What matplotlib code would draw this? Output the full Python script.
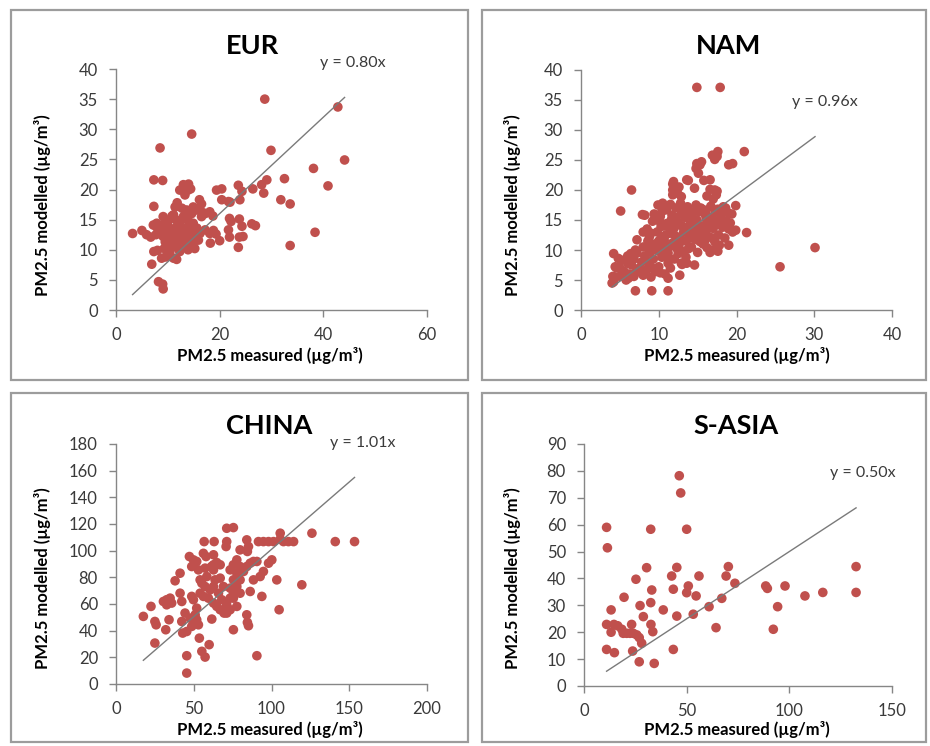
import matplotlib
matplotlib.use("Agg")
import matplotlib.pyplot as plt
from matplotlib.patches import Rectangle
import numpy as np

plt.rcParams['font.family'] = ['Lato', 'DejaVu Sans']

W, H = 930, 746

# ---------------- data ----------------
eur_x = [3.2, 5.0, 5.9, 6.7, 7.3, 7.3, 9.0, 8.5, 14.6, 28.7,
         42.8, 29.9, 44.1, 38.1, 40.9, 32.5, 31.8, 33.6, 33.6, 38.4,
         29.1, 28.1, 28.5, 26.4, 23.6, 24.3, 23.9, 26.9, 26.2, 23.8,
         24.3, 23.8, 24.5, 23.6, 21.9, 22.2, 21.7, 21.9, 20.0, 18.2,
         18.8, 19.3, 18.7, 20.4, 19.4, 20.4, 21.7, 16.1, 16.5, 16.9,
         13.0, 14.0, 14.4, 8.2, 9.0, 9.1, 6.9, 7.3, 8.0, 8.8,
         9.6, 11.1, 11.7, 7.9, 8.6, 7.7,
         13.3, 13.9, 12.3, 11.8, 11.4, 14.9, 16.2, 18.1, 22.0,
         7.85, 8.8, 9.8, 10.4, 9.5, 8.5, 9.1, 10.1, 11.1, 12.0,
         13.0, 13.9, 12.3, 11.7, 13.0, 13.9, 14.9, 15.6, 15.2, 14.3,
         13.3, 12.3, 11.4, 10.4, 9.5, 14.9, 15.9, 16.2, 17.2, 18.1,
         16.5, 17.2, 14.6, 15.6, 13.6, 12.7, 11.1, 9.1, 7.2, 10.4,
         12.3, 13.9, 15.2,
         9.8, 10.6, 11.5, 12.4, 13.2, 14.1, 10.2, 11.0, 11.9, 12.8,
         13.6, 14.5, 9.3, 10.8, 12.1, 13.4]
eur_y = [12.7, 13.2, 12.5, 12.1, 17.2, 21.6, 21.5, 26.9, 29.2, 35.0,
         33.7, 26.5, 24.9, 23.5, 20.6, 21.8, 18.3, 17.6, 10.7, 12.9,
         21.6, 20.8, 19.4, 20.1, 20.7, 19.7, 18.3, 14.0, 14.3, 15.1,
         13.9, 12.1, 12.2, 10.4, 15.2, 14.7, 13.3, 12.1, 11.5, 11.1,
         13.2, 12.6, 15.6, 20.1, 19.9, 18.3, 18.0, 18.3, 17.6, 16.1,
         20.8, 20.9, 20.1, 4.7, 4.3, 3.5, 7.6, 9.7, 9.9, 8.6,
         8.8, 8.6, 8.4, 13.7, 13.4, 12.5,
         19.1, 19.9, 19.9, 17.8, 17.1, 17.1, 16.6, 16.3, 17.9,
         14.4, 14.1, 14.4, 13.6, 13.0, 12.7, 12.2, 11.9, 12.4, 13.0,
         13.6, 13.8, 14.4, 14.9, 15.5, 14.9, 14.4, 13.6, 12.4, 11.9,
         11.3, 10.8, 10.5, 10.8, 11.3, 11.1, 11.6, 12.7, 13.3, 12.7,
         15.5, 16.0, 16.0, 16.6, 16.6, 16.9, 15.8, 15.5, 14.1, 9.7,
         9.7, 10.0, 10.2,
         11.0, 12.1, 11.6, 12.0, 11.8, 12.3, 14.9, 13.3, 14.1, 13.1,
         12.6, 13.4, 10.2, 15.6, 10.2, 10.6]

nam_x = [14.9, 17.9, 21.0, 30.1, 25.6, 21.3, 19.9, 19.9, 19.0, 19.0,
         19.5, 17.6, 17.5, 17.2, 14.9, 15.5, 15.3, 15.1, 16.6, 13.6,
         14.6, 11.9, 12.1, 11.8, 17.2, 17.4, 6.5, 5.1, 7.9, 7.2,
         4.2, 4.8, 4.4, 4.1, 4.2, 5.0, 6.1, 7.0, 9.1, 11.2,
         11.2, 12.7, 12.9, 13.6, 14.6,
         8.5, 8.8, 9.2, 9.5, 9.8, 9.9, 10.2, 10.4, 10.6, 10.8,
         11.0, 11.2, 11.4, 11.6, 11.8, 12.0, 12.2, 12.3, 12.5, 12.7,
         12.9, 13.0, 13.2, 13.4, 13.5, 13.7, 13.9, 14.0, 14.2, 14.4,
         14.5, 14.7, 14.9, 15.0, 15.2, 15.4, 15.5, 15.7, 15.9, 16.0,
         16.2, 16.3, 16.5, 16.7, 16.8, 17.0, 17.2, 17.3, 17.5, 17.7,
         17.8, 18.0, 18.2, 18.4, 18.5, 18.7, 18.9, 19.0, 17.6, 16.6,
         10.0, 9.0, 10.5, 11.5, 12.8, 13.8, 14.8, 15.6, 11.0, 12.0,
         13.0, 14.0, 15.0, 16.0, 17.0, 10.3, 9.4, 8.2, 8.0, 8.6,
         12.6, 12.4, 12.9, 11.8, 11.8, 14.8, 13.8, 15.8, 16.2, 17.0,
         17.5, 16.6, 16.9, 18.3, 18.6, 19.4, 19.2, 19.5,
         4.0, 4.3, 4.6, 5.2, 5.5, 5.8, 6.2, 6.5, 6.8, 7.0,
         7.2, 7.5, 7.8, 8.0, 8.2, 8.5, 8.8, 9.0, 9.3, 9.6,
         10.0, 10.4, 10.8, 11.0, 11.5, 12.0, 12.5, 13.0, 13.5, 6.0,
         7.0, 8.0, 9.0, 10.0,
         9.0, 9.6, 10.0, 10.4, 10.9, 11.3, 11.7, 12.1, 12.6, 13.1,
         13.6, 14.1, 14.6, 15.1, 15.6, 16.1, 16.6, 17.1, 17.6, 18.1,
         10.1, 10.7, 11.4, 12.2, 13.0, 13.8, 14.6, 15.3, 16.1, 16.9,
         5.0, 6.0, 6.8, 7.6, 8.4, 9.2, 10.2, 11.2, 6.4, 8.8]
nam_y = [37.1, 37.1, 26.4, 10.4, 7.2, 12.9, 13.3, 17.4, 10.8, 24.2,
         24.4, 26.4, 25.6, 25.1, 24.4, 24.7, 24.2, 22.8, 21.7, 21.7,
         20.3, 21.4, 20.3, 19.2, 20.0, 19.2, 20.0, 16.5, 15.9, 11.7,
         9.4, 8.6, 7.2, 5.6, 4.7, 5.6, 5.3, 3.2, 3.2, 3.2,
         5.3, 5.8, 7.8, 7.8, 7.5,
         13.5, 12.2, 14.8, 11.0, 13.0, 17.5, 15.6, 12.1, 10.2, 14.0,
         16.7, 9.5, 12.8, 15.0, 11.2, 13.7, 17.0, 10.3, 14.6, 12.0,
         16.0, 9.8, 13.0, 15.4, 11.5, 17.2, 12.5, 14.2, 10.5, 16.3,
         13.3, 11.8, 15.0, 9.6, 12.6, 17.0, 14.0, 11.0, 16.0, 13.0,
         10.4, 14.8, 12.2, 17.3, 15.5, 13.6, 11.4, 16.4, 14.3, 12.5,
         10.8, 15.6, 13.8, 16.5, 12.0, 14.8, 16.2, 13.5, 9.8, 9.6,
         11.5, 9.8, 17.8, 17.6, 17.8, 16.6, 17.5, 16.8, 14.4, 11.0,
         14.0, 12.0, 13.8, 11.7, 15.1, 13.9, 16.0, 15.8, 13.0, 11.5,
         20.5, 19.5, 18.9, 21.0, 20.0, 23.6, 21.6, 21.6, 19.0, 18.5,
         19.8, 20.1, 25.8, 17.2, 17.0, 16.0, 14.5, 13.0,
         4.5, 5.5, 7.0, 8.3, 6.5, 5.0, 6.0, 7.5, 8.5, 6.2,
         9.5, 7.0, 8.0, 5.8, 9.0, 6.8, 7.8, 5.5, 8.5, 6.4,
         7.2, 8.8, 6.0, 9.0, 7.0, 8.5, 9.4, 7.6, 8.8, 9.0,
         10.0, 10.5, 10.5, 9.8,
         12.8, 15.2, 10.8, 16.4, 12.5, 14.0, 15.8, 12.4, 10.8, 16.8,
         13.6, 15.6, 12.4, 16.4, 12.8, 15.2, 13.8, 12.0, 16.8, 14.2,
         14.8, 11.6, 10.6, 15.4, 11.6, 10.2, 14.4, 11.4, 16.6, 10.0,
         7.0, 7.8, 5.6, 6.4, 8.4, 7.0, 6.2, 7.8, 9.4, 9.8]

china_x = [17.6, 22.5, 25.0, 25.8, 25.0, 32.0, 30.5, 32.6, 34.8, 35.8,
           32.6, 34.1, 38.0, 41.2, 41.2, 42.3, 42.3, 42.9, 45.5, 45.5,
           47.2, 49.8, 51.9, 45.5, 48.7, 51.9, 53.0, 50.9, 47.6, 53.6,
           55.2, 57.3, 59.9, 61.6, 56.7, 63.1, 56.2, 57.9, 62.7, 64.8,
           67.0, 61.4, 57.3, 71.2, 75.5, 71.2, 70.8, 75.5, 84.1, 85.2,
           84.5, 86.3, 84.1, 85.2, 84.5, 90.6, 93.8, 92.7, 94.8, 98.1,
           100.2, 103.4, 104.9, 91.6, 94.8, 98.1, 101.3, 105.6, 107.7, 110.9,
           114.2, 105.6, 119.5, 126.0, 141.0, 153.4,
           54.1, 55.2, 57.3, 54.1, 56.2, 59.4, 60.5, 62.7, 58.4, 63.7,
           67.0, 65.9, 62.7, 64.8, 67.0, 69.5, 72.3, 71.2, 68.0, 73.4,
           75.5, 69.1, 77.7, 75.5, 73.4, 77.7, 79.8, 82.0, 84.1, 86.3,
           88.4, 90.6, 79.8, 77.7, 75.5, 73.4, 75.5, 77.7, 73.4, 71.2,
           79.8, 88.4, 79.8, 49.8, 48.7, 51.9, 50.9, 44.4, 62.7, 62.7,
           53.0, 48.7]
china_y = [50.7, 58.2, 46.9, 44.4, 30.7, 40.7, 61.9, 63.2, 64.4, 60.7,
           59.4, 48.2, 77.4, 83.1, 68.1, 61.9, 46.9, 38.2, 21.2, 8.2,
           95.6, 93.1, 91.9, 39.4, 43.2, 48.2, 44.4, 51.9, 49.4, 34.4,
           24.5, 20.2, 29.5, 48.7, 106.8, 106.8, 98.0, 95.6, 96.9, 91.1,
           89.4, 88.1, 86.9, 116.8, 117.3, 106.8, 103.1, 40.7, 51.9, 43.7,
           46.2, 69.4, 108.1, 103.1, 99.4, 21.2, 65.7, 80.6, 84.4, 90.6,
           93.1, 78.1, 55.7, 106.8, 106.8, 106.8, 106.8, 108.6, 106.8, 106.8,
           106.8, 113.1, 74.4, 113.1, 106.8, 106.8,
           78.1, 75.6, 73.1, 68.1, 65.7, 64.4, 70.6, 73.1, 80.6, 78.1,
           79.4, 68.1, 60.7, 58.2, 55.7, 53.2, 55.7, 59.4, 63.2, 64.4,
           68.1, 73.1, 93.1, 89.4, 85.6, 83.1, 88.1, 84.4, 88.1, 90.6,
           91.9, 91.9, 78.1, 73.1, 78.1, 71.9, 64.4, 58.2, 55.7, 53.2,
           68.1, 78.1, 100.6, 63.2, 65.7, 56.9, 49.4, 53.2, 89.4, 85.6,
           85.6, 88.1]

sasia_x = [46.4, 47.1, 11.0, 11.4, 32.5, 50.0, 30.5, 45.2, 70.3, 132.5,
           132.5, 42.7, 56.0, 69.2, 73.5, 25.3, 33.0, 43.5, 50.8, 50.0,
           54.6, 32.5, 27.3, 19.5, 13.2, 28.9, 38.6, 45.2, 53.2, 60.9,
           67.1, 64.3, 88.5, 89.3, 97.9, 94.3, 92.2, 107.6, 116.3, 11.0,
           14.6, 13.2, 16.4, 18.4, 19.1, 20.8, 23.2, 24.0, 25.7, 26.9,
           28.1, 22.4, 32.6, 33.5, 43.5, 11.0, 14.8, 23.7, 26.9, 34.2]
sasia_y = [78.2, 71.8, 59.0, 51.4, 58.3, 58.3, 44.0, 44.1, 44.4, 44.4,
           34.8, 40.9, 40.9, 40.9, 38.2, 39.7, 35.7, 36.0, 37.2, 34.7,
           33.5, 31.0, 29.9, 33.0, 28.3, 25.8, 28.3, 26.0, 26.7, 29.5,
           32.6, 21.7, 37.2, 36.3, 37.2, 29.5, 21.1, 33.5, 34.8, 22.9,
           22.9, 20.0, 22.4, 21.1, 19.6, 19.6, 22.9, 19.6, 19.0, 18.0,
           15.9, 19.6, 22.9, 20.2, 13.6, 13.6, 12.4, 13.0, 9.0, 8.4]

titles = ["EUR", "NAM", "CHINA", "S-ASIA"]
slopes = [0.80, 0.96, 1.01, 0.50]
eq_labels = ["y = 0.80x", "y = 0.96x", "y = 1.01x", "y = 0.50x"]
xlims = [60, 40, 200, 150]
ylims = [40, 40, 180, 90]
xsteps = [20, 10, 50, 50]
ysteps = [5, 5, 20, 10]
xlabel = "PM2.5 measured (µg/m³)"
ylabel = "PM2.5 modelled (µg/m³)"

# ---------------- layout (pixels) ----------------
axes_px = [(116, 69, 427, 310), (581, 70, 892, 310),
           (116, 444, 427, 684), (584, 444, 892, 686)]
frames_px = [(11, 10, 468, 380), (482, 10, 926, 380),
             (11, 393, 468, 742), (482, 393, 926, 742)]
title_px = [(252, 46), (728, 46), (269, 426), (736, 426)]
eq_px = [(353, 63), (825, 102), (363, 443), (863, 473)]
ylab_px = [(43, 205), (512, 205), (43, 578), (512, 578)]
xlab_px = [(270, 355), (737, 355), (270, 729), (737, 729)]

MARKER = '#C0504D'
SPINE = '#868686'
TXT = '#3a3a3a'

fig = plt.figure(figsize=(W / 100, H / 100), dpi=100)

for (l, t, r, b) in frames_px:
    fig.patches.append(Rectangle((l / W, 1 - b / H), (r - l) / W, (b - t) / H,
                                 transform=fig.transFigure, fill=False,
                                 edgecolor='#9c9c9c', linewidth=1.6))

data = [(eur_x, eur_y), (nam_x, nam_y), (china_x, china_y), (sasia_x, sasia_y)]

for i in range(4):
    l, t, r, b = axes_px[i]
    ax = fig.add_axes([l / W, 1 - b / H, (r - l) / W, (b - t) / H])
    xs, ys = data[i]
    ax.scatter(xs, ys, s=48, color=MARKER, edgecolors='none', zorder=2, clip_on=False)
    xmin, xmax = min(xs), max(xs)
    lx = np.array([xmin, xmax])
    ax.plot(lx, slopes[i] * lx, color='#7a7a7a', lw=1.0, zorder=3)
    ax.set_xlim(0, xlims[i])
    ax.set_ylim(0, ylims[i])
    ax.set_xticks(np.arange(0, xlims[i] + 0.1, xsteps[i]))
    ax.set_yticks(np.arange(0, ylims[i] + 0.1, ysteps[i]))
    for s in ['top', 'right']:
        ax.spines[s].set_visible(False)
    for s in ['left', 'bottom']:
        ax.spines[s].set_color(SPINE)
        ax.spines[s].set_linewidth(1.0)
    ax.tick_params(direction='out', length=5, width=1.0, color=SPINE,
                   labelsize=12, labelcolor=TXT)
    ax.tick_params(axis='y', pad=8)
    ax.tick_params(axis='x', pad=7)
    ax.patch.set_alpha(0)
    fig.text(title_px[i][0] / W, 1 - title_px[i][1] / H, titles[i],
             ha='center', va='center', fontsize=19.5, fontweight='bold', color='black')
    fig.text(eq_px[i][0] / W, 1 - eq_px[i][1] / H, eq_labels[i],
             ha='center', va='center', fontsize=11.5, color=TXT)
    fig.text(ylab_px[i][0] / W, 1 - ylab_px[i][1] / H, ylabel, rotation=90,
             ha='center', va='center', fontsize=12, fontweight='bold', color='black')
    fig.text(xlab_px[i][0] / W, 1 - xlab_px[i][1] / H, xlabel,
             ha='center', va='center', fontsize=12, fontweight='bold', color='black')

fig.savefig('out.png', dpi=100)
